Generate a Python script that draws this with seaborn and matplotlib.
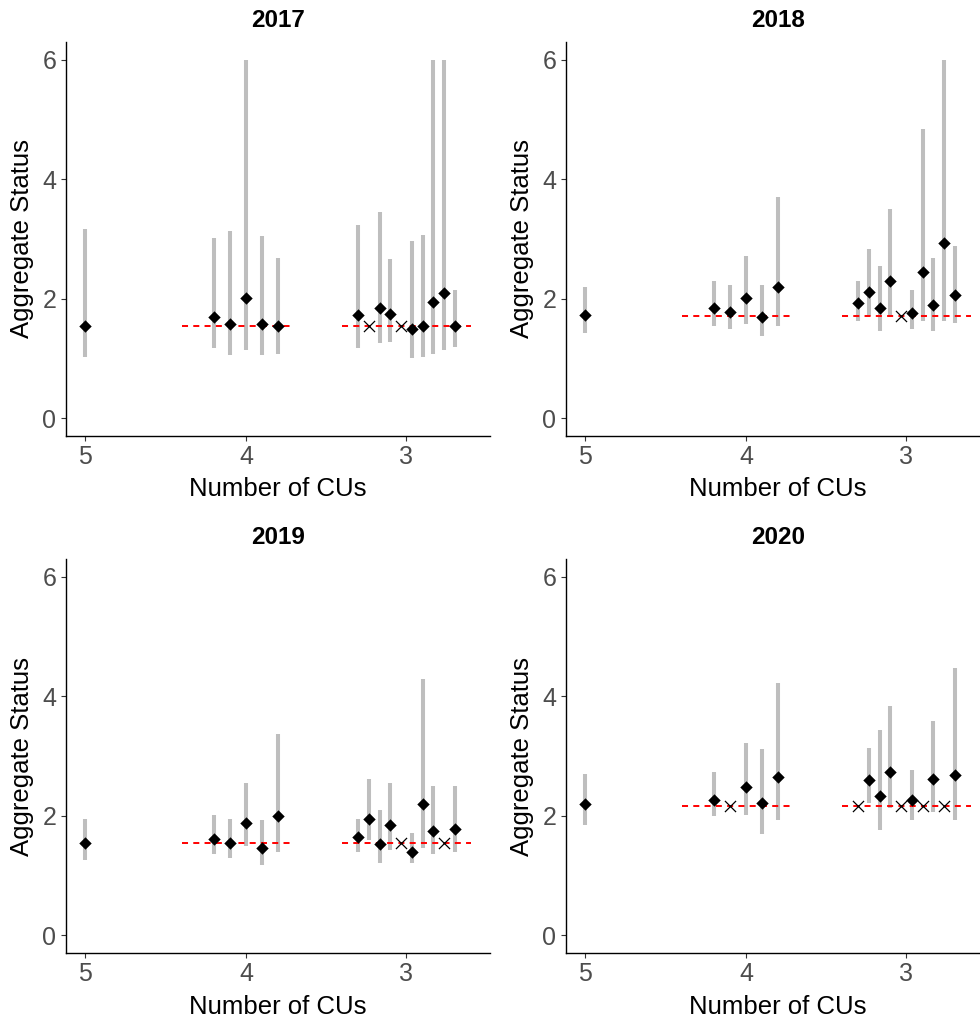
import numpy as np
import pandas as pd
import matplotlib
matplotlib.use("Agg")
import matplotlib.pyplot as plt
import seaborn as sns

# ---------------------------------------------------------------
# Aggregate status estimates by number of CUs retained
# ---------------------------------------------------------------
years = ["2017", "2018", "2019", "2020"]

# Estimate with all five CUs (median and interval)
all5_med = [1.55, 1.72, 1.55, 2.19]
all5_lo = [1.03, 1.43, 1.26, 1.84]
all5_hi = [3.16, 2.20, 1.95, 2.70]

# Reference level (red dashed line)
ref_level = [1.54, 1.71, 1.54, 2.17]

# CU count for each subset (5 subsets of 4 CUs, 10 subsets of 3 CUs)
n_cus = [4] * 5 + [3] * 10

# Subset estimates; None marks a subset shown with a cross at the reference level
med_2017 = [1.69, 1.58, 2.01, 1.58, 1.54, 1.72, None, 1.84, 1.74, None, 1.49, 1.54, 1.95, 2.09, 1.54]
lo_2017 = [1.17, 1.05, 1.14, 1.05, 1.08, 1.17, None, 1.25, 1.28, None, 1.00, 1.02, 1.08, 1.14, 1.19]
hi_2017 = [3.02, 3.13, 6.00, 3.05, 2.69, 3.24, None, 3.45, 2.66, None, 2.96, 3.07, 6.00, 6.00, 2.15]

med_2018 = [1.84, 1.78, 2.01, 1.69, 2.19, 1.92, 2.12, 1.84, 2.29, None, 1.76, 2.44, 1.90, 2.93, 2.06]
lo_2018 = [1.54, 1.49, 1.57, 1.37, 1.54, 1.63, 1.71, 1.46, 1.71, None, 1.49, 1.63, 1.46, 1.63, 1.60]
hi_2018 = [2.29, 2.23, 2.72, 2.23, 3.71, 2.29, 2.84, 2.55, 3.51, None, 2.15, 4.85, 2.69, 6.00, 2.89]

med_2019 = [1.61, 1.55, 1.87, 1.46, 1.99, 1.64, 1.95, 1.53, 1.84, None, 1.40, 2.19, 1.75, None, 1.78]
lo_2019 = [1.36, 1.29, 1.50, 1.18, 1.40, 1.40, 1.59, 1.21, 1.43, None, 1.21, 1.46, 1.36, None, 1.40]
hi_2019 = [2.01, 1.95, 2.55, 1.92, 3.37, 1.95, 2.62, 2.09, 2.54, None, 1.71, 4.29, 2.50, None, 2.50]

med_2020 = [2.27, None, 2.48, 2.22, 2.65, None, 2.59, 2.33, 2.73, None, 2.27, None, 2.62, None, 2.68]
lo_2020 = [1.99, None, 2.02, 1.70, 1.92, None, 2.22, 1.76, 2.13, None, 1.92, None, 2.06, None, 1.92]
hi_2020 = [2.73, None, 3.22, 3.11, 4.22, None, 3.14, 3.43, 3.83, None, 2.76, None, 3.58, None, 4.47]

x_ticks = [5, 4, 3]
y_ticks = [0, 2, 4, 6]

meds = [med_2017, med_2018, med_2019, med_2020]
los = [lo_2017, lo_2018, lo_2019, lo_2020]
his = [hi_2017, hi_2018, hi_2019, hi_2020]


def dodge_positions(groups):
    """Spread the subsets of each CU count side by side around the tick."""
    pos = []
    counters = {}
    sizes = {g: groups.count(g) for g in set(groups)}
    step = {4: 0.1, 3: 2.0 / 30.0}
    for g in groups:
        i = counters.get(g, 0)
        counters[g] = i + 1
        pos.append(g + ((sizes[g] - 1) / 2.0 - i) * step[g])
    return pos


# Long-format table of all estimates
rows = []
xpos = dodge_positions(n_cus)
for k, yr in enumerate(years):
    rows.append(dict(year=yr, cus=5, x=5.0, med=all5_med[k], lo=all5_lo[k],
                     hi=all5_hi[k], ref=ref_level[k]))
    for j, g in enumerate(n_cus):
        m = meds[k][j]
        rows.append(dict(year=yr, cus=g, x=xpos[j],
                         med=np.nan if m is None else m,
                         lo=np.nan if los[k][j] is None else los[k][j],
                         hi=np.nan if his[k][j] is None else his[k][j],
                         ref=ref_level[k]))
df = pd.DataFrame(rows)

sns.set_theme(style="ticks")
plt.rcParams["font.family"] = ["Liberation Sans", "DejaVu Sans"]

W, H = 980, 1022
fig = plt.figure(figsize=(W / 100, H / 100), dpi=100)

# panel boxes in pixels: left, top, width, height
boxes = [(66, 42, 424, 394), (566, 42, 424, 394),
         (66, 559, 424, 394), (566, 559, 424, 394)]

ref_spans = {4: (4.4, 3.7), 3: (3.4, 2.6)}

for k, yr in enumerate(years):
    l, t, w, h = boxes[k]
    ax = fig.add_axes([l / W, 1 - (t + h) / H, w / W, h / H])
    d = df[df.year == yr]
    est = d.dropna(subset=["med"])
    miss = d[d.med.isna()]

    ax.vlines(est.x, est.lo, est.hi, color="#BEBEBE", linewidth=2.9, zorder=1)
    for g, (x0, x1) in ref_spans.items():
        ax.hlines(ref_level[k], x0, x1, color="#FF0000", linewidth=1.4,
                  linestyles=(0, (3.1, 2.7)), zorder=2)
    sns.scatterplot(data=est, x="x", y="med", marker="D", color="black",
                    s=40, linewidth=0, ax=ax, zorder=3, legend=False)
    sns.scatterplot(data=miss, x="x", y="ref", marker="x", color="black",
                    s=64, linewidth=0.9, ax=ax, zorder=4, legend=False)

    ax.set_xlim(5.12, 2.48)
    ax.set_ylim(-0.3, 6.3)
    ax.set_xticks(x_ticks)
    ax.set_xticklabels([str(v) for v in x_ticks])
    ax.set_yticks(y_ticks)
    ax.set_yticklabels([str(v) for v in y_ticks])
    ax.tick_params(axis="both", length=3.6, width=0.8, color="#333333",
                   labelsize=18, labelcolor="#4D4D4D")
    ax.tick_params(axis="x", pad=3)
    ax.tick_params(axis="y", pad=3.5)
    for side in ["top", "right"]:
        ax.spines[side].set_visible(False)
    for side in ["left", "bottom"]:
        ax.spines[side].set_linewidth(1.0)
        ax.spines[side].set_color("black")
    ax.set_xlabel("Number of CUs", fontsize=18.5, color="black", labelpad=6)
    ax.set_ylabel("Aggregate Status", fontsize=18.5, color="black", labelpad=6)
    ax.set_title(yr, fontsize=17.5, fontweight="bold", color="black", pad=11)

fig.savefig("out.png", dpi=100)
